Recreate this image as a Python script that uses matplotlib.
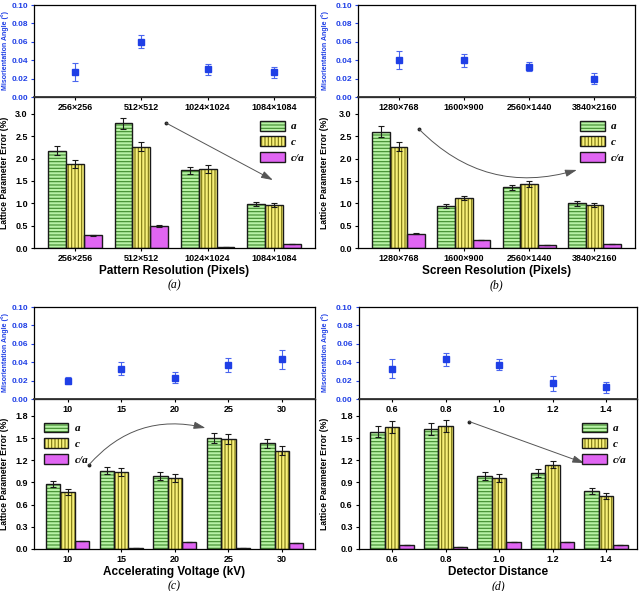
import matplotlib
matplotlib.use("Agg")
import matplotlib.pyplot as plt
import numpy as np
from matplotlib.legend_handler import HandlerTuple
from matplotlib.patches import Patch

plt.rcParams['font.family'] = ['Liberation Sans', 'DejaVu Sans']
plt.rcParams['font.weight'] = 'bold'
plt.rcParams['hatch.linewidth'] = 0.8

# ---- data ----
labels_a = ["256×256", "512×512", "1024×1024", "1084×1084"]
mis_a = [0.027, 0.060, 0.030, 0.027]
mis_err_a = [0.010, 0.007, 0.006, 0.006]
a_a = [2.18, 2.79, 1.74, 0.99]
a_err_a = [0.10, 0.13, 0.08, 0.05]
c_a = [1.89, 2.27, 1.77, 0.96]
c_err_a = [0.09, 0.10, 0.08, 0.05]
ca_a = [0.28, 0.50, 0.02, 0.09]
ca_err_a = [0.01, 0.02, 0.0, 0.0]

labels_b = ["1280×768", "1600×900", "2560×1440", "3840×2160"]
mis_b = [0.040, 0.040, 0.033, 0.020]
mis_err_b = [0.010, 0.007, 0.005, 0.006]
a_b = [2.60, 0.94, 1.36, 1.00]
a_err_b = [0.12, 0.04, 0.06, 0.05]
c_b = [2.27, 1.12, 1.44, 0.96]
c_err_b = [0.10, 0.05, 0.07, 0.05]
ca_b = [0.32, 0.18, 0.07, 0.09]
ca_err_b = [0.01, 0.005, 0.0, 0.0]

labels_c = ["10", "15", "20", "25", "30"]
mis_c = [0.020, 0.033, 0.023, 0.037, 0.043]
mis_err_c = [0.0035, 0.007, 0.006, 0.008, 0.010]
a_c = [0.88, 1.06, 0.99, 1.50, 1.43]
a_err_c = [0.04, 0.05, 0.05, 0.07, 0.06]
c_c = [0.77, 1.04, 0.96, 1.49, 1.33]
c_err_c = [0.04, 0.05, 0.05, 0.07, 0.06]
ca_c = [0.11, 0.02, 0.10, 0.01, 0.08]
ca_err_c = [0.0, 0.0, 0.0, 0.0, 0.0]

labels_d = ["0.6", "0.8", "1.0", "1.2", "1.4"]
mis_d = [0.033, 0.043, 0.037, 0.017, 0.013]
mis_err_d = [0.010, 0.007, 0.006, 0.008, 0.006]
a_d = [1.59, 1.62, 0.99, 1.03, 0.79]
a_err_d = [0.08, 0.08, 0.05, 0.05, 0.04]
c_d = [1.65, 1.66, 0.96, 1.14, 0.72]
c_err_d = [0.08, 0.08, 0.05, 0.05, 0.04]
ca_d = [0.06, 0.03, 0.09, 0.10, 0.06]
ca_err_d = [0.0, 0.0, 0.0, 0.0, 0.0]

green = '#b8f2a6'
green_h = '#3f8a2c'
yellow = '#f7f07a'
yellow_h = '#7a7410'
magenta = '#e065f2'
blue = '#1f3fe6'
edge = '#1a1a1a'

W, H = 640, 591
fig = plt.figure(figsize=(6.4, 5.91), dpi=100)


def draw_bars(ax, x, vals, errs, offset, color, hcolor, hatch):
    ax.bar(x + offset, vals, 0.27, color=color, hatch=hatch, edgecolor=hcolor,
           linewidth=0, zorder=2)
    ax.bar(x + offset, vals, 0.27, fill=False, edgecolor=edge, linewidth=1.0,
           zorder=3)
    ax.errorbar(x + offset, vals, yerr=errs, fmt='none', ecolor=edge,
                elinewidth=0.8, capsize=2.2, capthick=0.8, zorder=4)


def panel(base, left, right, top_px, mid_px, bot_px, labels, mis, mis_err,
          av, aerr, cv, cerr, cav, caerr, ymax, yticks, xlabel, cap,
          xlim, leg_loc, leg_anchor, arrow):
    x = np.arange(len(labels))
    axt = fig.add_axes([left / W, 1 - mid_px / H, (right - left) / W,
                        (mid_px - top_px) / H])
    axb = fig.add_axes([left / W, 1 - bot_px / H, (right - left) / W,
                        (bot_px - mid_px) / H])
    axb.set_zorder(0)
    axt.set_zorder(1)
    axt.patch.set_alpha(0)
    lab_x = (base + 9 - left) / (right - left)

    axt.errorbar(x, mis, yerr=mis_err, fmt='s', color=blue, ms=5,
                 ecolor='#4a66ee', elinewidth=0.8, capsize=2.2, capthick=0.8)
    axt.set_ylim(0, 0.10)
    axt.set_yticks(np.arange(0, 0.101, 0.02))
    axt.set_yticklabels([f'{v:.2f}' for v in np.arange(0, 0.101, 0.02)])
    axt.set_xlim(*xlim)
    axt.set_xticks(x)
    axt.set_xticklabels(labels)
    axt.tick_params(axis='y', colors=blue, labelsize=6, length=2.5, width=0.8,
                    pad=2)
    axt.tick_params(axis='x', labelsize=6.5, length=2.5, width=0.8, pad=2)
    axt.set_ylabel('Misorientation Angle (°)', color=blue, fontsize=5.0,
                   fontweight='bold')
    axt.yaxis.set_label_coords(lab_x, 0.5)
    for s in axt.spines.values():
        s.set_linewidth(0.9)
    axt.spines['bottom'].set_linewidth(1.3)
    axt.spines['bottom'].set_color('#333333')

    draw_bars(axb, x, av, aerr, -0.27, green, green_h, '-----')
    draw_bars(axb, x, cv, cerr, 0.0, yellow, yellow_h, '|||||')
    draw_bars(axb, x, cav, caerr, 0.27, magenta, magenta, None)
    axb.set_xlim(*xlim)
    axb.set_ylim(0, ymax)
    axb.set_yticks(yticks)
    axb.set_yticklabels([f'{v:.1f}' for v in yticks])
    axb.set_xticks(x)
    axb.set_xticklabels(labels)
    axb.tick_params(labelsize=6.5, length=2.5, width=0.8, pad=2)
    axb.set_ylabel('Lattice Parameter Error (%)', fontsize=6.2,
                   fontweight='bold')
    axb.yaxis.set_label_coords(lab_x, 0.5)
    axb.set_xlabel(xlabel, fontsize=8.5, fontweight='bold', labelpad=1)
    for s in axb.spines.values():
        s.set_linewidth(0.9)

    handles = []
    for col, hc, ht in [(green, green_h, '-----'), (yellow, yellow_h, '|||||'),
                        (magenta, magenta, None)]:
        p1 = Patch(facecolor=col, hatch=ht, edgecolor=hc, linewidth=0)
        p2 = Patch(fill=False, edgecolor=edge, linewidth=1.0)
        handles.append((p1, p2))
    axb.legend(handles, ['a', 'c', 'c/a'], loc=leg_loc,
               bbox_to_anchor=leg_anchor, frameon=False,
               handler_map={tuple: HandlerTuple(ndivide=1, pad=0)},
               handlelength=2.2, handleheight=1.0, labelspacing=0.45,
               handletextpad=0.6,
               prop={'family': 'Liberation Serif', 'style': 'italic',
                     'weight': 'bold', 'size': 8})

    (sx, sy), (ex, ey), rad = arrow
    axb.plot([sx], [sy], 'o', color='#222222', ms=1.8,
             transform=axb.transAxes, zorder=5)
    axb.annotate('', xy=(ex, ey), xycoords='axes fraction',
                 xytext=(sx, sy), textcoords='axes fraction',
                 arrowprops=dict(arrowstyle='-|>,head_length=0.7,head_width=0.22',
                                 color='#555555', lw=0.7,
                                 connectionstyle=f'arc3,rad={rad}',
                                 shrinkA=0, shrinkB=0), zorder=5)

    cx = (left + right) / 2 / W
    fig.text(cx, 1 - (bot_px + 37) / H, cap, ha='center', va='center',
             fontsize=8.5, family='Liberation Serif', style='italic',
             fontweight='normal')


panel(0, 34, 315, 5, 97, 248, labels_a, mis_a, mis_err_a, a_a, a_err_a, c_a,
      c_err_a, ca_a, ca_err_a, 3.38, np.arange(0, 3.01, 0.5),
      'Pattern Resolution (Pixels)', '(a)', (-0.62, 3.62), 'upper right',
      (1.0, 0.91), ((0.47, 0.828), (0.85, 0.45), 0.0))
panel(320, 358, 635, 5, 97, 248, labels_b, mis_b, mis_err_b, a_b, a_err_b, c_b,
      c_err_b, ca_b, ca_err_b, 3.38, np.arange(0, 3.01, 0.5),
      'Screen Resolution (Pixels)', '(b)', (-0.62, 3.62), 'upper right',
      (1.0, 0.91), ((0.22, 0.788), (0.79, 0.517), 0.3))
panel(0, 34, 315, 307, 399, 549, labels_c, mis_c, mis_err_c, a_c, a_err_c, c_c,
      c_err_c, ca_c, ca_err_c, 2.03, np.arange(0, 1.81, 0.3),
      'Accelerating Voltage (kV)', '(c)', (-0.63, 4.62), 'upper left',
      (0.0, 0.91), ((0.195, 0.56), (0.61, 0.807), -0.3))
panel(320, 359, 637, 307, 399, 549, labels_d, mis_d, mis_err_d, a_d, a_err_d, c_d,
      c_err_d, ca_d, ca_err_d, 2.03, np.arange(0, 1.81, 0.3),
      'Detector Distance', '(d)', (-0.62, 4.58), 'upper right',
      (1.0, 0.91), ((0.396, 0.85), (0.81, 0.573), 0.0))

fig.savefig('out.png', dpi=100)
